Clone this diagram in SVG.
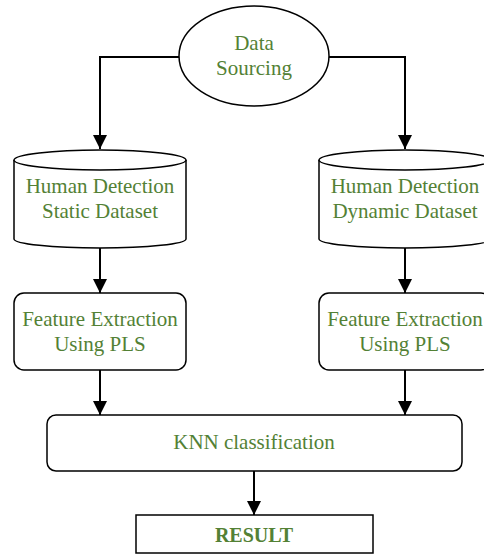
<svg xmlns="http://www.w3.org/2000/svg" width="484" height="554" viewBox="0 0 484 554">
<style>
.shape{fill:#fff;stroke:#000;stroke-width:1.5}
.lbl{font-family:"Liberation Serif","Times New Roman",serif;font-size:21px;fill:#538135;text-anchor:middle}
.conn{fill:none;stroke:#000;stroke-width:2}
</style>
<defs>
<marker id="arr" markerUnits="userSpaceOnUse" markerWidth="16" markerHeight="16" refX="14" refY="7" orient="auto">
<path d="M0,0 L14,7 L0,14 Z" fill="#000"/>
</marker>
</defs>
<rect width="484" height="554" fill="#fff"/>
<g id="connectors">
<path class="conn" d="M179,57 H100 V149" marker-end="url(#arr)"/>
<path class="conn" d="M329,57 H405 V149" marker-end="url(#arr)"/>
<path class="conn" d="M100,248 V293" marker-end="url(#arr)"/>
<path class="conn" d="M405,248 V293" marker-end="url(#arr)"/>
<path class="conn" d="M100,370 V415" marker-end="url(#arr)"/>
<path class="conn" d="M405,370 V415" marker-end="url(#arr)"/>
<path class="conn" d="M254,471 V515" marker-end="url(#arr)"/>
</g>
<g id="data-sourcing">
<ellipse class="shape" cx="254" cy="56" rx="75" ry="50"/>
<text class="lbl" x="254" y="50">Data</text>
<text class="lbl" x="254" y="75">Sourcing</text>
</g>
<g id="static-dataset">
<path class="shape" d="M14,160 A86,10 0 0 1 186,160 V239 A86,9 0 0 1 14,239 Z"/>
<path class="shape" d="M14,160 A86,10 0 0 0 186,160" fill="none"/>
<text class="lbl" x="100" y="193">Human Detection</text>
<text class="lbl" x="100" y="218">Static Dataset</text>
</g>
<g id="dynamic-dataset">
<path class="shape" d="M319,160 A86,10 0 0 1 491,160 V239 A86,9 0 0 1 319,239 Z"/>
<path class="shape" d="M319,160 A86,10 0 0 0 491,160" fill="none"/>
<text class="lbl" x="405" y="193">Human Detection</text>
<text class="lbl" x="405" y="218">Dynamic Dataset</text>
</g>
<g id="feature-left">
<rect class="shape" x="14" y="293" width="172" height="77" rx="10"/>
<text class="lbl" x="100" y="326">Feature Extraction</text>
<text class="lbl" x="100" y="351">Using PLS</text>
</g>
<g id="feature-right">
<rect class="shape" x="319" y="293" width="172" height="77" rx="10"/>
<text class="lbl" x="405" y="326">Feature Extraction</text>
<text class="lbl" x="405" y="351">Using PLS</text>
</g>
<g id="knn">
<rect class="shape" x="47" y="415" width="415" height="56" rx="9"/>
<text class="lbl" x="254" y="449">KNN classification</text>
</g>
<g id="result">
<rect class="shape" x="136" y="515" width="237" height="38"/>
<text class="lbl" x="254" y="542" style="font-weight:bold;font-size:20px">RESULT</text>
</g>
</svg>
